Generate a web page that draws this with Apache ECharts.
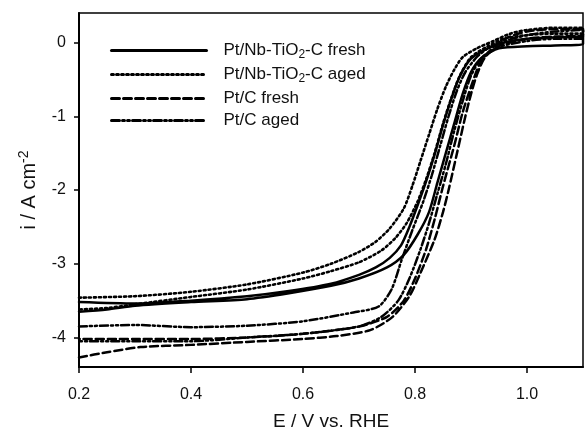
<!DOCTYPE html>
<html>
<head>
<meta charset="utf-8">
<script src="https://cdn.jsdelivr.net/npm/echarts@6/dist/echarts.min.js"></script>
<style>
html,body{margin:0;padding:0;background:#fff;}
#chart{width:585px;height:433px;}
</style>
</head>
<body>
<div id="chart"></div>
<script>
// Legend / series names
var seriesNames = ['Pt/Nb-TiO2-C fresh', 'Pt/Nb-TiO2-C aged', 'Pt/C fresh', 'Pt/C aged'];

// Axis tick values
var xTicks = [0.2, 0.4, 0.6, 0.8, 1.0];
var yTicks = [-4, -3, -2, -1, 0];

// Pt/Nb-TiO2-C fresh (solid): forward sweep then return sweep
var nbFreshE = [0.2,0.3,0.4,0.5,0.575,0.65,0.7,0.73,0.755,0.775,0.79,0.805,0.82,0.835,0.85,0.865,0.88,0.9,0.93,0.96,1.0,1.05,1.1,
                1.1,1.05,1.0,0.95,0.92,0.9,0.885,0.87,0.855,0.84,0.825,0.805,0.78,0.75,0.7,0.65,0.575,0.5,0.4,0.3,0.25,0.2];
var nbFreshI = [-3.52,-3.54,-3.50,-3.44,-3.37,-3.27,-3.15,-3.05,-2.92,-2.75,-2.5,-2.2,-1.88,-1.52,-1.12,-0.76,-0.46,-0.22,-0.08,0.0,0.05,0.07,0.08,
                -0.02,-0.04,-0.05,-0.08,-0.2,-0.4,-0.7,-1.1,-1.5,-1.9,-2.3,-2.6,-2.88,-3.05,-3.2,-3.3,-3.4,-3.48,-3.52,-3.57,-3.62,-3.65];

// Pt/Nb-TiO2-C aged (dotted)
var nbAgedE = [0.2,0.3,0.4,0.5,0.6,0.65,0.7,0.73,0.755,0.78,0.795,0.81,0.825,0.84,0.855,0.87,0.885,0.91,0.94,0.97,1.0,1.05,1.1,
               1.1,1.05,1.0,0.96,0.93,0.9,0.88,0.865,0.85,0.835,0.82,0.805,0.785,0.765,0.74,0.7,0.65,0.6,0.5,0.4,0.3,0.25,0.2];
var nbAgedI = [-3.46,-3.44,-3.38,-3.28,-3.12,-3.0,-2.84,-2.7,-2.52,-2.25,-1.95,-1.6,-1.25,-0.9,-0.6,-0.37,-0.2,-0.08,0.02,0.12,0.17,0.2,0.2,
               0.12,0.12,0.1,0.05,-0.05,-0.2,-0.45,-0.75,-1.1,-1.5,-1.85,-2.15,-2.45,-2.65,-2.82,-2.98,-3.1,-3.2,-3.35,-3.45,-3.55,-3.6,-3.62];

// Pt/C fresh (dashed)
var cFreshE = [0.2,0.25,0.31,0.4,0.5,0.6,0.66,0.72,0.76,0.79,0.81,0.835,0.85,0.86,0.875,0.89,0.9,0.91,0.925,0.95,1.0,1.05,1.1,
               1.1,1.05,1.0,0.96,0.935,0.915,0.9,0.885,0.87,0.85,0.835,0.82,0.8,0.78,0.75,0.7,0.6,0.5,0.4,0.3,0.2];
var cFreshI = [-4.27,-4.2,-4.13,-4.1,-4.06,-4.02,-3.98,-3.9,-3.72,-3.44,-3.12,-2.67,-2.3,-2.0,-1.5,-1.0,-0.7,-0.45,-0.2,-0.05,0.05,0.08,0.1,
               0.18,0.18,0.15,0.05,-0.1,-0.3,-0.6,-0.95,-1.4,-1.95,-2.4,-2.8,-3.2,-3.5,-3.72,-3.85,-3.95,-4.0,-4.02,-4.02,-4.02];

// Pt/C aged (dash-dot-dot)
var cAgedE = [0.2,0.3,0.4,0.5,0.6,0.69,0.735,0.758,0.776,0.795,0.815,0.83,0.845,0.86,0.875,0.89,0.91,0.93,0.96,1.0,1.05,1.1,
              1.1,1.05,1.0,0.95,0.92,0.9,0.885,0.87,0.855,0.84,0.825,0.81,0.79,0.77,0.74,0.7,0.6,0.5,0.4,0.3,0.2];
var cAgedI = [-3.85,-3.83,-3.86,-3.84,-3.78,-3.66,-3.58,-3.35,-2.95,-2.55,-2.15,-1.8,-1.4,-1.0,-0.65,-0.4,-0.2,-0.08,0.02,0.1,0.15,0.17,
              0.05,0.05,0.02,-0.06,-0.2,-0.45,-0.8,-1.2,-1.65,-2.05,-2.45,-2.8,-3.2,-3.5,-3.72,-3.85,-3.95,-4.0,-4.05,-4.05,-4.05];

function zip(a, b) { return a.map(function (v, k) { return [v, b[k]]; }); }

var FONT = '"Liberation Sans", Arial, sans-serif';
var seriesData = [zip(nbFreshE, nbFreshI), zip(nbAgedE, nbAgedI), zip(cFreshE, cFreshI), zip(cAgedE, cAgedI)];
var dashes = ['solid', [2, 3], [8, 4], [8, 3, 2, 3, 2, 3]];
var widths = [2.5, 2.6, 2.5, 2.5];

var chart = echarts.init(document.getElementById('chart'), null, {renderer: 'canvas'});
chart.setOption({
  animation: false,
  backgroundColor: '#fff',
  grid: {left: 79, right: 2, top: 13, bottom: 66, show: true, borderColor: '#000', borderWidth: 1.5,
    backgroundColor: 'transparent', containLabel: false, outerBoundsMode: 'none'},
  legend: {
    orient: 'vertical', left: 105, top: 37, itemWidth: 95, itemHeight: 8, itemGap: 5,
    itemStyle: {opacity: 0},
    lineStyle: {width: 3},
    data: seriesNames,
    formatter: function (n) { return '{gap|}' + n.replace('TiO2', 'TiO{sub|2}'); },
    textStyle: {
      fontFamily: FONT, fontSize: 17, color: '#111',
      rich: {gap: {width: 12}, sub: {fontSize: 12, fontFamily: FONT, color: '#111', padding: [9, 0, 0, 0]}}
    }
  },
  xAxis: {
    type: 'value', min: 0.2, max: 1.1,
    name: 'E / V vs. RHE', nameLocation: 'middle', nameGap: 45,
    nameTextStyle: {fontFamily: FONT, fontSize: 19, color: '#111'},
    axisLine: {show: true, onZero: false, lineStyle: {color: '#000', width: 2}},
    axisTick: {show: true, inside: false, length: 6, customValues: xTicks, lineStyle: {color: '#000', width: 1.5}},
    axisLabel: {customValues: xTicks, margin: 20, fontFamily: FONT, fontSize: 16, color: '#111',
      formatter: function (v) { return v.toFixed(1); }},
    splitLine: {show: false}
  },
  yAxis: {
    type: 'value', min: -4.4, max: 0.4,
    name: 'i / A cm{sup|-2}', nameLocation: 'middle', nameGap: 38, nameRotate: 90,
    nameTextStyle: {fontFamily: FONT, fontSize: 20, color: '#111',
      rich: {sup: {fontSize: 14, fontFamily: FONT, color: '#111', padding: [0, 0, 10, 0]}}},
    axisLine: {show: true, onZero: false, lineStyle: {color: '#000', width: 2}},
    axisTick: {show: true, inside: false, length: 5, customValues: yTicks, lineStyle: {color: '#000', width: 1.5}},
    axisLabel: {customValues: yTicks, margin: 13, fontFamily: FONT, fontSize: 16, color: '#111',
      formatter: function (v) { return String(Math.round(v)); }},
    splitLine: {show: false}
  },
  series: seriesNames.map(function (name, k) {
    return {
      name: name, type: 'line', data: seriesData[k], symbol: 'none', smooth: 0.25,
      clip: true,
      lineStyle: {color: '#000', width: widths[k], type: dashes[k], cap: 'round'},
      itemStyle: {color: '#000'}
    };
  })
});
</script>
</body>
</html>
